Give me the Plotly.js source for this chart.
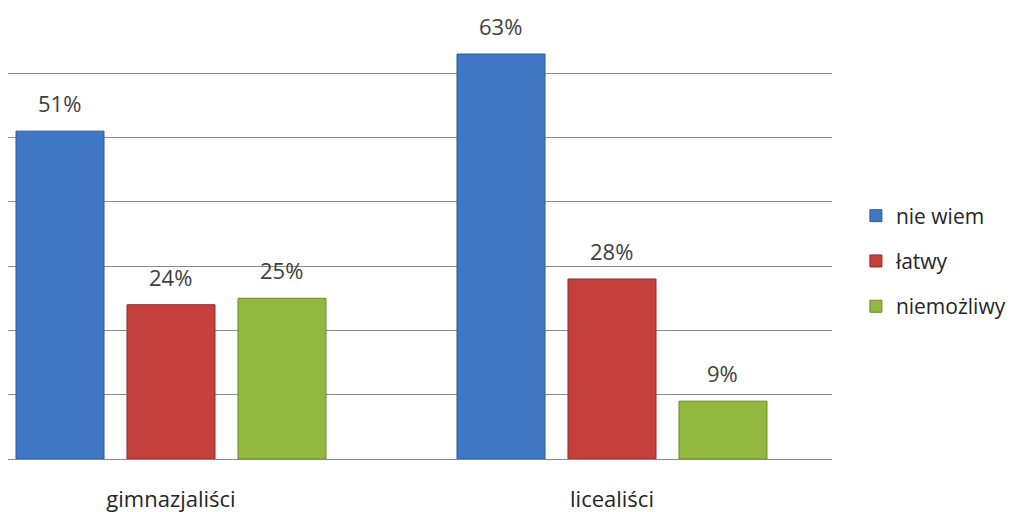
<!DOCTYPE html>
<html><head><meta charset="utf-8">
<script src="https://cdn.plot.ly/plotly-3.0.1.min.js"></script>
<style>html,body{margin:0;padding:0;background:#fff}#chart{width:1016px;height:512px}</style>
</head><body><div id="chart"></div>
<script>
const categories = ["gimnazjaliści", "licealiści"];
const seriesNames = ["nie wiem", "łatwy", "niemożliwy"];
const nieWiem = [51, 63];
const latwy = [24, 28];
const niemozliwy = [25, 9];
const seriesValues = [nieWiem, latwy, niemozliwy];
const colors = ["#3F77C4", "#C4403D", "#92B840"];
const lineColors = ["#2C5A9A", "#8E2C2A", "#6A8A2A"];
const FONT = "'Open Sans', Lato, sans-serif";

const traces = seriesValues.map((vals, i) => ({
  type: "bar",
  name: seriesNames[i],
  x: categories,
  y: vals,
  legendgroup: "g" + i,
  marker: {color: colors[i], line: {color: lineColors[i], width: 1}},
  hoverinfo: "none"
}));

const slot = 0.2517;
const annotations = [];
seriesValues.forEach((vals, i) => {
  vals.forEach((v, j) => {
    annotations.push({
      x: j + (i - 1) * slot, y: v, xref: "x", yref: "y",
      text: v + "%", showarrow: false, yanchor: "bottom", yshift: 11,
      font: {family: FONT, size: 22, color: "#404040"}
    });
  });
});

const layout = {
  width: 1016, height: 512,
  margin: {l: 8, r: 184, t: 9, b: 53, autoexpand: false},
  paper_bgcolor: "#fff", plot_bgcolor: "#fff",
  barmode: "group", bargap: 0.245, bargroupgap: 0.207,
  showlegend: true,
  legend: {x: 1.029, y: 0.44, yanchor: "middle", xanchor: "left",
           font: {family: FONT, size: 21, color: "#262626"},
           tracegroupgap: 15, itemwidth: 30},
  xaxis: {type: "category", range: [-0.3696, 1.4989], showgrid: false, zeroline: false,
          showline: false, ticks: "", ticklabelstandoff: 25,
          tickfont: {family: FONT, size: 22, color: "#262626"}},
  yaxis: {range: [0, 70], dtick: 10, showgrid: true, gridcolor: "#8a8a8a", gridwidth: 1,
          showticklabels: false, zeroline: true, zerolinecolor: "#8a8a8a", zerolinewidth: 1,
          ticks: ""},
  annotations: annotations
};
Plotly.newPlot("chart", traces, layout, {displayModeBar: false, staticPlot: true});
</script></body></html>
